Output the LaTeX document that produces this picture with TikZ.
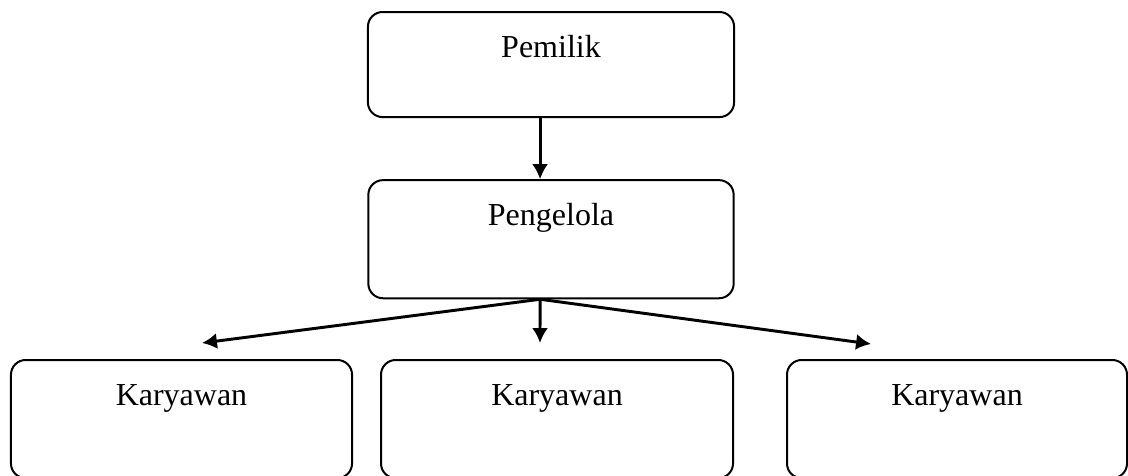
\documentclass[tikz,border=0pt]{standalone}
\usepackage{fontspec}
\setmainfont{Liberation Serif}
\usetikzlibrary{arrows.meta,positioning}

\begin{document}
\begin{tikzpicture}[x=0.375pt,y=-0.375pt,>={Latex[length=5.6pt,width=6pt]},
  kotak/.style={draw,line width=0.75pt,rounded corners=5.5pt,anchor=north,
    inner ysep=0pt,text height=16.9pt,font=\fontsize{12}{14}\selectfont},
  panah/.style={->,line width=1.1pt}]
  \useasboundingbox (0,0) rectangle (1128,475);
  \clip (0,0) rectangle (1128,475);
  % atas
  \node[kotak,minimum width=137.3pt,text depth=22.5pt] (pemilik) at (551,11) {Pemilik};
  \node[kotak,minimum width=137pt,text depth=27.4pt,below=22.9pt of pemilik] (pengelola) {Pengelola};
  % bawah
  \node[kotak,minimum width=127.9pt,text depth=27.4pt] (karyawanA) at (181.5,359) {Karyawan};
  \node[kotak,minimum width=132pt,text depth=27.4pt] (karyawanB) at (557,359) {Karyawan};
  \node[kotak,minimum width=127.5pt,text depth=27.4pt] (karyawanC) at (957,359) {Karyawan};
  % panah
  \coordinate (pusat) at ([xshift=-4.1pt]pengelola.south);
  \coordinate (ujungA) at (202,343);
  \coordinate (ujungB) at (540,343);
  \coordinate (ujungC) at (871,344);
  \draw[panah] ([xshift=-4.1pt]pemilik.south) -- ([xshift=-4.1pt]pengelola.north);
  \foreach \u in {ujungA,ujungB,ujungC}
    \draw[panah] (pusat) -- (\u);
\end{tikzpicture}
\end{document}
